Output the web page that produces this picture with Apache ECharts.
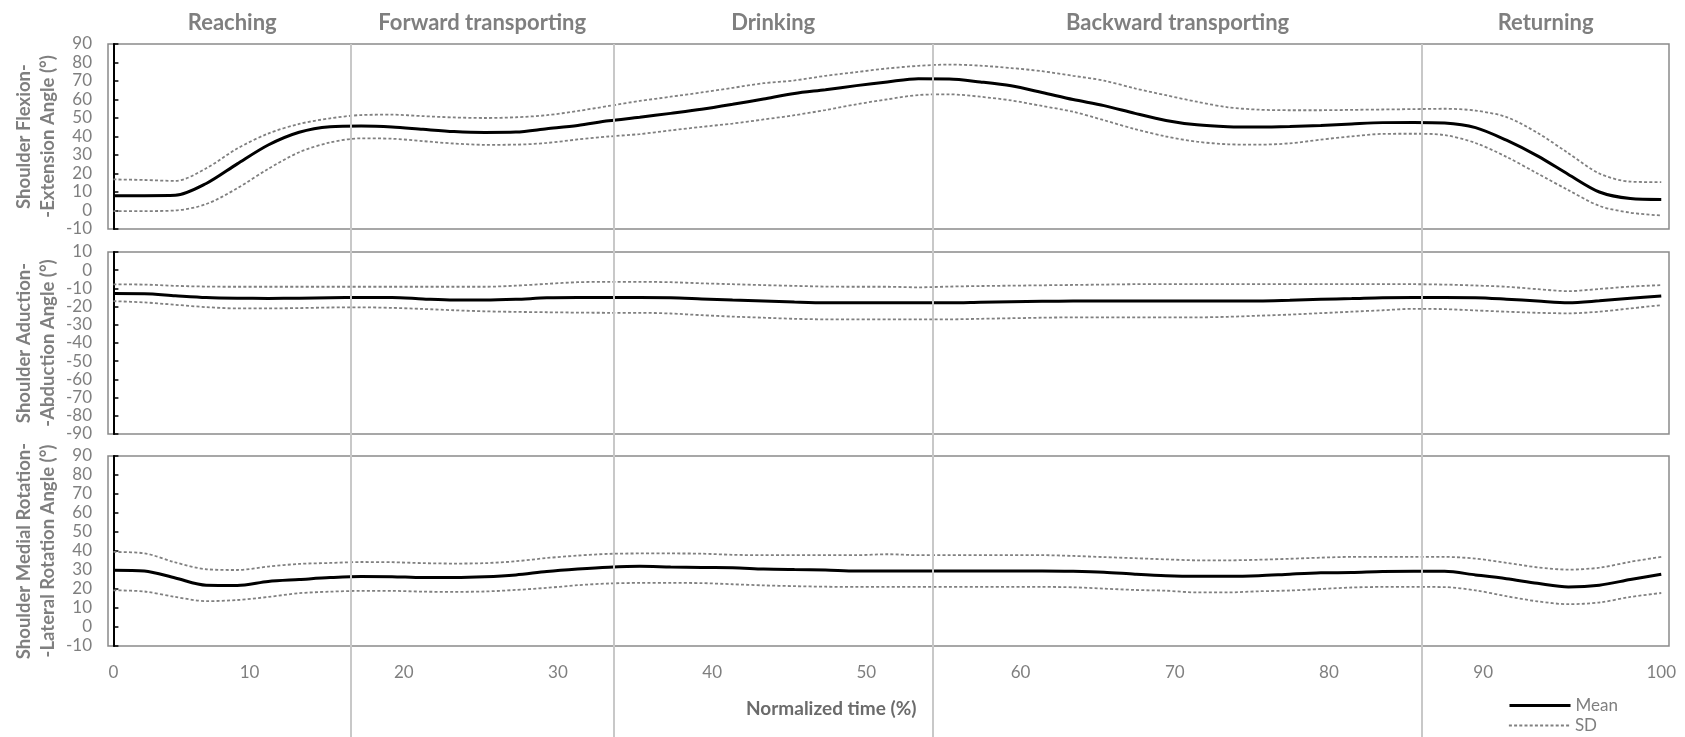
<!DOCTYPE html>
<html>
<head>
<meta charset="utf-8">
<script src="https://cdn.jsdelivr.net/npm/echarts@6/dist/echarts.min.js"></script>
<style>
html,body{margin:0;padding:0;background:#ffffff;}
#chart{width:1685px;height:737px;}
</style>
</head>
<body>
<div id="chart"></div>
<script>
// ---------------- DATA ----------------
const timePct = [0,2,4,6,8,10,12,14,16,18,20,22,24,26,28,30,32,34,36,38,40,42,44,46,48,50,52,54,56,58,60,62,64,66,68,70,72,74,76,78,80,82,84,86,88,90,92,94,96,98,100];

const flexMean  = [8.0,8.0,8.2,14.6,25.2,35.4,42.3,45.3,45.7,45.2, 43.9,42.7,42.2,42.4,44.2,46.0,48.5,50.4,52.5,54.7, 57.4,60.3,63.3,65.3,67.5,69.5,71.2,71.1,69.5,67.4, 63.8,60.0,56.7,52.5,48.7,46.3,45.3,45.1,45.4,46.0, 46.8,47.5,47.6,47.3,44.8,38.0,29.5,19.5,10.0,6.5, 6.0];
const flexUpper = [16.8,16.5,16.0,22.8,33.5,41.6,46.8,49.8,51.6,51.8, 51.0,50.3,50.0,50.4,51.5,53.8,56.5,59.2,61.5,63.8, 66.3,68.8,70.3,72.8,74.8,76.8,78.2,78.9,78.3,77.0, 75.3,72.8,70.2,66.0,62.3,58.8,55.8,54.5,54.2,54.2, 54.4,54.6,54.8,55.0,54.0,50.5,42.0,31.0,20.0,15.6, 15.3];
const flexLower = [-0.3,-0.3,0.0,3.5,12.0,22.5,31.5,36.8,39.0,38.8, 37.5,36.2,35.5,35.6,36.5,38.4,40.0,41.3,43.3,45.2, 47.0,49.2,51.5,54.3,57.4,60.1,62.4,62.8,61.5,59.5, 56.5,53.4,48.8,44.0,40.0,37.2,35.8,35.6,36.3,38.3, 40.1,41.4,41.5,40.8,36.5,29.0,20.0,11.0,2.5,-1.2, -2.7];

const abdMean  = [-12.8,-12.9,-14.0,-15.0,-15.4,-15.5,-15.4,-15.1,-15.0,-15.0, -15.8,-16.4,-16.4,-16.0,-15.2,-15.0,-15.0,-15.0,-15.2,-15.8, -16.4,-16.9,-17.5,-17.9,-17.9,-17.9,-17.9,-17.9,-17.6,-17.3, -17.1,-16.9,-16.9,-16.9,-16.9,-16.9,-16.9,-16.9,-16.5,-16.0, -15.6,-15.1,-15.0,-15.0,-15.1,-15.9,-16.9,-17.9,-16.8,-15.4, -14.2];
const abdUpper = [-7.8,-7.9,-8.6,-9.0,-9.1,-9.1,-9.1,-9.1,-9.1,-9.1, -9.1,-9.1,-9.1,-8.5,-7.5,-6.6,-6.4,-6.4,-6.6,-7.2, -7.7,-8.2,-8.6,-9.0,-9.1,-9.1,-9.4,-9.0,-8.7,-8.5, -8.3,-8.1,-7.9,-7.7,-7.7,-7.7,-7.7,-7.7,-7.7,-7.7, -7.7,-7.7,-7.7,-7.9,-8.4,-9.1,-10.4,-11.5,-10.3,-9.0, -8.2];
const abdLower = [-17.0,-17.7,-19.0,-20.3,-21.0,-21.0,-20.8,-20.5,-20.4,-20.7, -21.3,-22.0,-22.6,-22.9,-23.1,-23.3,-23.4,-23.4,-23.8,-24.7, -25.5,-26.1,-26.7,-27.0,-27.0,-27.0,-27.0,-27.0,-26.7,-26.4, -26.1,-25.9,-25.9,-25.9,-25.9,-25.9,-25.6,-25.0,-24.4,-23.6, -22.8,-22.0,-21.2,-21.4,-22.1,-22.8,-23.4,-23.7,-22.8,-21.0, -19.2];

const rotMean  = [29.9,29.5,25.8,22.0,21.9,24.0,25.0,26.0,26.6,26.5, 26.0,26.0,26.4,27.4,29.2,30.5,31.5,32.0,31.6,31.3, 31.2,30.5,30.2,30.0,29.5,29.5,29.5,29.5,29.5,29.5, 29.5,29.3,28.8,27.8,27.0,26.7,26.7,27.0,27.8,28.5, 28.7,29.2,29.3,29.3,27.4,25.4,23.0,21.1,22.0,25.0, 27.8];
const rotUpper = [39.5,38.8,34.0,30.4,30.0,31.8,33.2,33.7,34.2,34.1, 33.6,33.4,33.6,34.6,36.3,37.6,38.5,38.7,38.7,38.6, 38.0,37.8,37.8,37.8,37.8,38.3,37.8,37.8,37.8,37.8, 37.8,37.4,36.8,36.2,35.6,35.1,35.1,35.4,35.9,36.5, 36.9,36.9,36.9,36.9,36.0,33.8,31.4,30.2,31.2,34.3, 36.9];
const rotLower = [19.3,18.7,15.8,13.6,14.2,15.8,17.8,18.6,19.0,19.0, 18.6,18.5,18.7,19.5,20.6,22.0,22.9,23.2,23.2,23.1, 22.5,21.9,21.5,21.2,21.1,21.1,21.1,21.1,21.1,21.1, 21.1,20.9,20.2,19.5,19.1,18.2,18.2,18.8,19.2,20.0, 20.8,21.1,21.1,21.0,19.3,16.2,13.5,12.0,12.9,15.8, 17.9];

const xTickLabels = ['0','10','20','30','40','50','60','70','80','90','100'];
const yTicksFlex = [-10, 90];
const yTicksAbd  = [-90, 10];
const yTicksRot  = [-10, 90];
const yNames = ['Shoulder Flexion-\n-Extension Angle (°)', 'Shoulder Aduction-\n-Abduction Angle (°)', 'Shoulder Medial Rotation-\n-Lateral Rotation Angle (°)'];
const phaseNames = ['Reaching', 'Forward transporting', 'Drinking', 'Backward transporting', 'Returning'];
const phaseBounds = [0, 15.35, 32.3, 52.95, 84.55, 100.5];
const legendNames = ['Mean', 'SD'];
const xAxisTitle = 'Normalized time (%)';

// ---------------- LAYOUT / STYLE ----------------
const FONT = 'Lato, "Open Sans", sans-serif';
const GRAY = '#7f7f7f';
const PLOT_LEFT = 108, PLOT_WIDTH = 1561;
const X_MIN = -0.35, X_MAX = 100.5;          // data axis extent (Excel-like half-slot padding)
const LBL_MIN = 0.82, LBL_MAX = 102.05;      // tick-label axis extent as drawn in the reference
const panelLayout = [ {top: 44, height: 185}, {top: 252, height: 182}, {top: 456, height: 190} ];
const legendTops = [697, 717];
const MEAN_STYLE = {color: '#000000', width: 3};
const SD_STYLE = {color: '#808080', width: 1.8, type: [3, 2.2]};

const panelData = [
  {mean: flexMean, up: flexUpper, lo: flexLower, range: yTicksFlex},
  {mean: abdMean,  up: abdUpper,  lo: abdLower,  range: yTicksAbd},
  {mean: rotMean,  up: rotUpper,  lo: rotLower,  range: yTicksRot}
];

const pairs = arr => timePct.map((t, i) => [t, arr[i]]);

const grids = panelLayout.map(p => ({
  left: PLOT_LEFT, width: PLOT_WIDTH, top: p.top, height: p.height,
  show: true, borderColor: '#8a8a8a', borderWidth: 1.5, outerBoundsMode: 'none'
}));
// overlay grid (phase dividers + phase labels)
grids.push({left: PLOT_LEFT, width: PLOT_WIDTH, top: 44, bottom: 0, show: false, outerBoundsMode: 'none'});
// grid for the interior x tick labels
grids.push({left: PLOT_LEFT, width: PLOT_WIDTH, top: panelLayout[2].top, height: panelLayout[2].height, show: false, outerBoundsMode: 'none'});

const xAxes = panelLayout.map((p, i) => ({
  type: 'value', gridIndex: i, min: X_MIN, max: X_MAX,
  axisLine: {show: false}, axisTick: {show: false}, splitLine: {show: false},
  axisLabel: i === 2 ? {
    show: true, customValues: [Number(xTickLabels[0]), Number(xTickLabels[xTickLabels.length - 1])],
    formatter: v => String(Math.round(v)), color: GRAY, fontSize: 17, fontFamily: FONT, margin: 18
  } : {show: false}
}));
xAxes.push({type: 'value', gridIndex: 3, min: X_MIN, max: X_MAX, show: false});
xAxes.push({
  type: 'value', gridIndex: 4, min: LBL_MIN, max: LBL_MAX,
  axisLine: {show: false}, axisTick: {show: false}, splitLine: {show: false},
  axisLabel: {show: true, customValues: xTickLabels.slice(1, -1).map(Number),
    formatter: v => String(Math.round(v)), color: GRAY, fontSize: 17, fontFamily: FONT, margin: 18}
});

const yAxes = panelData.map((d, i) => ({
  type: 'value', gridIndex: i, min: d.range[0], max: d.range[1], interval: 10,
  axisLine: {show: true, lineStyle: {color: '#000000', width: 2}},
  axisTick: {show: true, inside: true, length: 5, lineStyle: {color: '#000000', width: 1.5}},
  axisLabel: {color: GRAY, fontSize: 17, fontFamily: FONT, margin: 16},
  splitLine: {show: false},
  name: yNames[i], nameLocation: 'middle', nameGap: 48, nameMoveOverlap: false,
  nameTextStyle: {color: GRAY, fontSize: 18.5, fontWeight: 'bold', lineHeight: 24, fontFamily: FONT}
}));
yAxes.push({type: 'value', gridIndex: 3, min: 0, max: 1, show: false});
yAxes.push({type: 'value', gridIndex: 4, min: 0, max: 1, show: false});

const series = [];
panelData.forEach((d, i) => {
  series.push({
    name: legendNames[0], type: 'line', xAxisIndex: i, yAxisIndex: i, data: pairs(d.mean),
    showSymbol: false, symbol: 'none', smooth: 0.3, z: 4,
    lineStyle: MEAN_STYLE, itemStyle: {color: MEAN_STYLE.color}
  });
  [d.up, d.lo].forEach(arr => series.push({
    name: legendNames[1], type: 'line', xAxisIndex: i, yAxisIndex: i, data: pairs(arr),
    showSymbol: false, symbol: 'none', smooth: 0.3, z: 3,
    lineStyle: SD_STYLE, itemStyle: {color: SD_STYLE.color}
  }));
});

series.push({
  type: 'line', xAxisIndex: 3, yAxisIndex: 3, data: [], silent: true, z: 1,
  markLine: {
    silent: true, symbol: ['none', 'none'], animation: false,
    label: {show: false},
    lineStyle: {color: '#c8c8c8', width: 2, type: 'solid'},
    data: phaseBounds.slice(1, -1).map(b => ({xAxis: b}))
  },
  markArea: {
    silent: true, animation: false,
    itemStyle: {color: 'rgba(0,0,0,0)'},
    label: {show: true, position: 'top', distance: 9, color: GRAY, fontSize: 22, fontWeight: 'bold', fontFamily: FONT, lineHeight: 25},
    data: phaseNames.map((n, k) => [{name: n, xAxis: phaseBounds[k]}, {xAxis: phaseBounds[k + 1]}])
  }
});

const legends = legendNames.map((n, k) => ({
  data: [n], orient: 'vertical', left: 1508, top: legendTops[k], padding: 0, align: 'left',
  itemWidth: 61, itemHeight: 12, itemGap: 0,
  itemStyle: {opacity: 0},
  lineStyle: {width: (k === 0 ? MEAN_STYLE : SD_STYLE).width},
  textStyle: {color: GRAY, fontSize: 17, fontFamily: FONT, lineHeight: 17}
}));

const option = {
  animation: false,
  backgroundColor: '#ffffff',
  title: {
    text: xAxisTitle, left: 741, top: 694,
    textStyle: {color: '#6b6b6b', fontSize: 19, fontWeight: 'bold', fontFamily: FONT}
  },
  legend: legends,
  grid: grids,
  xAxis: xAxes,
  yAxis: yAxes,
  series: series
};

const chart = echarts.init(document.getElementById('chart'), null, {renderer: 'canvas'});
chart.setOption(option);
</script>
</body>
</html>
